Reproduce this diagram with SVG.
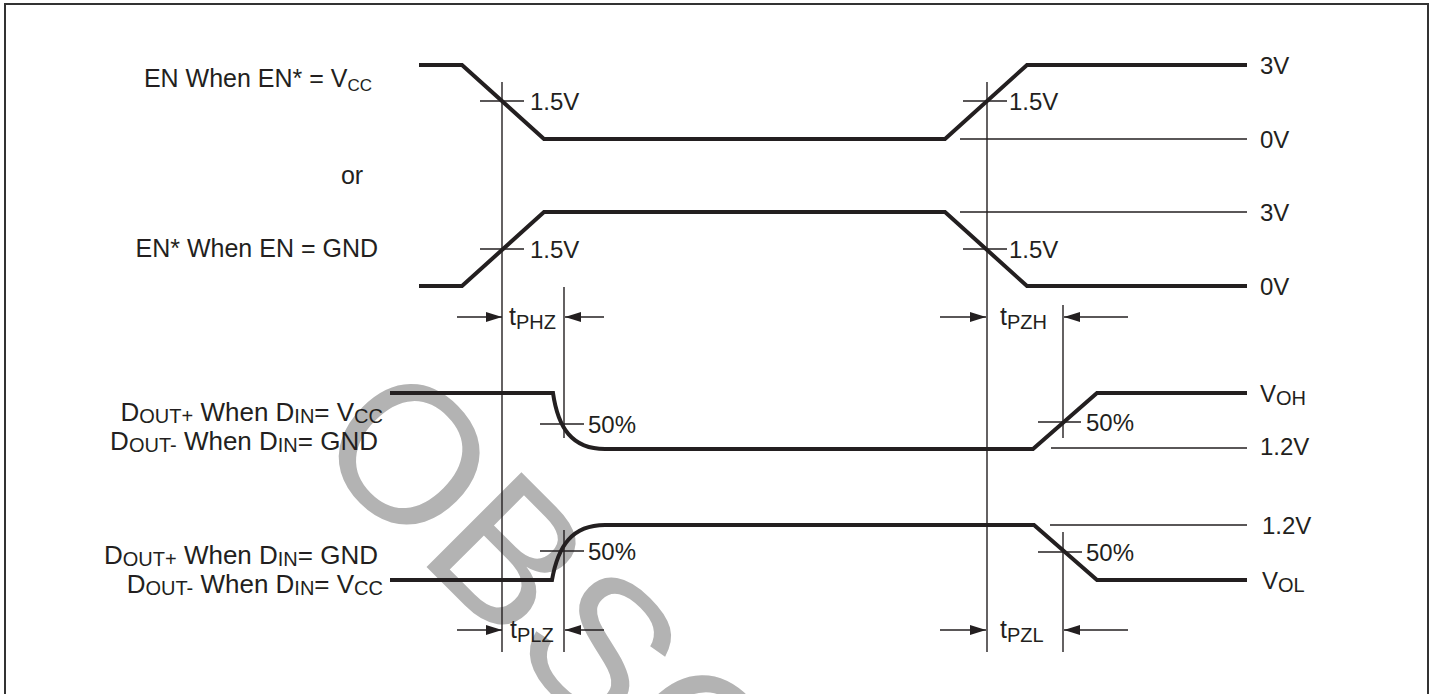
<svg xmlns="http://www.w3.org/2000/svg" width="1432" height="694" viewBox="0 0 1432 694">
<defs>
<style>
.sig{fill:none;stroke:#231f20;stroke-width:4;stroke-linejoin:miter}
.thin{fill:none;stroke:#231f20;stroke-width:1.4}
.lbl{font-family:"Liberation Sans",Arial,Helvetica,sans-serif;font-size:25px;fill:#231f20}
.dl{font-family:"Liberation Sans",Arial,Helvetica,sans-serif;font-size:26px;fill:#231f20}
.val{font-family:"Liberation Sans",Arial,Helvetica,sans-serif;font-size:24px;fill:#231f20}
.sub{font-size:17px}
.sb{font-size:20px}
.wm{font-family:"Liberation Sans",Arial,Helvetica,sans-serif;font-size:195px;fill:#b3b3b3}
</style>
<marker id="ah" markerUnits="userSpaceOnUse" markerWidth="18" markerHeight="12" refX="16" refY="5" orient="auto">
<path d="M0,0 L16,5 L0,10 Z" fill="#231f20"/>
</marker>
</defs>
<rect x="0" y="0" width="1432" height="694" fill="#ffffff"/>
<g id="watermark">
<text class="wm" x="-76" y="71" transform="translate(412 452) rotate(45)">OBSOLETE</text>
</g>
<rect id="frame" x="5" y="4" width="1423" height="700" fill="none" stroke="#333333" stroke-width="2"/>

<g id="labels">
<text class="lbl" x="372" y="87" text-anchor="end">EN When EN* = V<tspan class="sub" dy="4">CC</tspan></text>
<text class="lbl" x="352" y="184" text-anchor="middle">or</text>
<text class="lbl" x="378" y="257" text-anchor="end">EN* When EN = GND</text>
<text class="dl" x="383" y="421" text-anchor="end">D<tspan class="sb" dy="2">OUT+</tspan><tspan dy="-2"> When D</tspan><tspan class="sb" dy="2">IN</tspan><tspan dy="-2">= V</tspan><tspan class="sb" dy="2">CC</tspan></text>
<text class="dl" x="378" y="450" text-anchor="end">D<tspan class="sb" dy="2">OUT-</tspan><tspan dy="-2"> When D</tspan><tspan class="sb" dy="2">IN</tspan><tspan dy="-2">= GND</tspan></text>
<text class="dl" x="378" y="564" text-anchor="end">D<tspan class="sb" dy="2">OUT+</tspan><tspan dy="-2"> When D</tspan><tspan class="sb" dy="2">IN</tspan><tspan dy="-2">= GND</tspan></text>
<text class="dl" x="383" y="593" text-anchor="end">D<tspan class="sb" dy="2">OUT-</tspan><tspan dy="-2"> When D</tspan><tspan class="sb" dy="2">IN</tspan><tspan dy="-2">= V</tspan><tspan class="sb" dy="2">CC</tspan></text>
</g>

<g id="sig-en">
<path class="sig" d="M419,65 L462,65 L544,139 L945,139 L1027,65 L1247,65"/>
<line class="thin" x1="960" y1="139" x2="1247" y2="139"/>
<line class="thin" x1="480" y1="101" x2="524" y2="101"/>
<line class="thin" x1="963" y1="101" x2="1007" y2="101"/>
<text class="val" x="530" y="110">1.5V</text>
<text class="val" x="1009" y="110">1.5V</text>
<text class="val" x="1260" y="74">3V</text>
<text class="val" x="1260" y="148">0V</text>
</g>

<g id="sig-enstar">
<path class="sig" d="M419,286 L462,286 L544,212 L945,212 L1027,286 L1247,286"/>
<line class="thin" x1="960" y1="212" x2="1247" y2="212"/>
<line class="thin" x1="480" y1="249" x2="524" y2="249"/>
<line class="thin" x1="963" y1="249" x2="1007" y2="249"/>
<text class="val" x="530" y="258">1.5V</text>
<text class="val" x="1009" y="258">1.5V</text>
<text class="val" x="1260" y="221">3V</text>
<text class="val" x="1260" y="295">0V</text>
</g>

<g id="sig-dout-a">
<path class="sig" d="M390,393 L553,393 C558,428 572,449 605,449 L1033,449 L1097,393 L1247,393"/>
<line class="thin" x1="1051" y1="448" x2="1247" y2="448"/>
<line class="thin" x1="540" y1="424" x2="584" y2="424"/>
<line class="thin" x1="1038" y1="422" x2="1081" y2="422"/>
<text class="val" x="588" y="433">50%</text>
<text class="val" x="1086" y="431">50%</text>
<text class="val" x="1260" y="402">V<tspan class="sb" dy="3">OH</tspan></text>
<text class="val" x="1260" y="455">1.2V</text>
</g>

<g id="sig-dout-b">
<path class="sig" d="M390,580 L552,580 C558,546 572,525 605,525 L1034,525 L1097,580 L1247,580"/>
<line class="thin" x1="1050" y1="525" x2="1247" y2="525"/>
<line class="thin" x1="540" y1="551" x2="584" y2="551"/>
<line class="thin" x1="1038" y1="552" x2="1082" y2="552"/>
<text class="val" x="588" y="560">50%</text>
<text class="val" x="1086" y="561">50%</text>
<text class="val" x="1262" y="534">1.2V</text>
<text class="val" x="1262" y="589">V<tspan class="sb" dy="3">OL</tspan></text>
</g>

<g id="connectors">
<line class="thin" x1="502" y1="82" x2="502" y2="652"/>
<line class="thin" x1="987" y1="82" x2="987" y2="652"/>
<line class="thin" x1="564" y1="287" x2="564" y2="438"/>
<line class="thin" x1="564" y1="530" x2="564" y2="652"/>
<line class="thin" x1="1063" y1="305" x2="1063" y2="438"/>
<line class="thin" x1="1063" y1="532" x2="1063" y2="652"/>
<line class="thin" x1="457" y1="317" x2="502" y2="317" marker-end="url(#ah)"/>
<line class="thin" x1="604" y1="317" x2="565" y2="317" marker-end="url(#ah)"/>
<line class="thin" x1="940" y1="317" x2="986" y2="317" marker-end="url(#ah)"/>
<line class="thin" x1="1128" y1="317" x2="1064" y2="317" marker-end="url(#ah)"/>
<line class="thin" x1="457" y1="630" x2="502" y2="630" marker-end="url(#ah)"/>
<line class="thin" x1="604" y1="630" x2="565" y2="630" marker-end="url(#ah)"/>
<line class="thin" x1="940" y1="630" x2="986" y2="630" marker-end="url(#ah)"/>
<line class="thin" x1="1128" y1="630" x2="1064" y2="630" marker-end="url(#ah)"/>
</g>

<g id="timing-labels">
<text class="lbl" x="509" y="325">t<tspan class="sb" dy="4">PHZ</tspan></text>
<text class="lbl" x="1000" y="325">t<tspan class="sb" dy="4">PZH</tspan></text>
<text class="lbl" x="510" y="638">t<tspan class="sb" dy="4">PLZ</tspan></text>
<text class="lbl" x="1000" y="638">t<tspan class="sb" dy="4">PZL</tspan></text>
</g>
</svg>
